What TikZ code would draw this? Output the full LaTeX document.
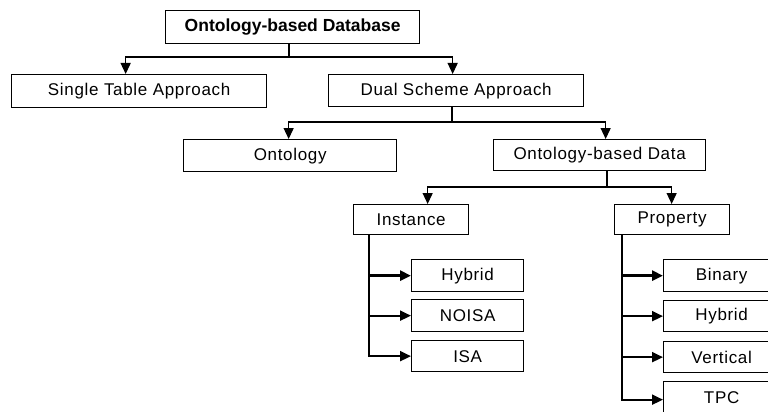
\documentclass[tikz,border=0pt]{standalone}
\usepackage{fontspec}
\setmainfont[LetterSpace=4]{Liberation Sans}
\newfontfamily\titlefont{Liberation Sans}
\usetikzlibrary{arrows.meta}
\begin{document}
\begin{tikzpicture}[x=1pt,y=-1pt,
  box/.style={draw,line width=1.3pt,fill=white,anchor=north west,inner sep=0pt,
              font=\fontsize{17}{20}\selectfont},
  link/.style={line width=1.3pt},
  downarr/.style={line width=1.3pt,-{Triangle[length=11pt,width=10pt]}},
  sidearr/.style={line width=2pt,-{Triangle[length=11pt,width=10pt]}},
]
\useasboundingbox (0,0) rectangle (768,412);
\fill[white] (0,0) rectangle (768,412);
\clip (0,0) rectangle (768,412);

% boxes
\node[box,minimum width=254pt,minimum height=33pt,
      font=\titlefont\bfseries\fontsize{17.5}{20}\selectfont] (db) at (165,10) {Ontology-based Database};
\node[box,minimum width=255pt,minimum height=33pt] (single) at (11,74) {Single Table Approach};
\node[box,minimum width=255pt,minimum height=32pt] (dual) at (328,74) {Dual Scheme Approach};
\node[box,minimum width=213pt,minimum height=32pt] (onto) at (183,139) {Ontology};
\node[box,minimum width=212pt,minimum height=31pt] (obd) at (493,139) {Ontology-based Data};
\node[box,minimum width=115pt,minimum height=30pt] (inst) at (353,204) {Instance};
\node[box,minimum width=115pt,minimum height=30pt] (prop) at (614,204) {Property};
\node[box,minimum width=112pt,minimum height=32pt] (ih) at (411,259) {Hybrid};
\node[box,minimum width=112pt,minimum height=32pt] (ino) at (411,299) {NOISA};
\node[box,minimum width=112pt,minimum height=31pt] (iisa) at (411,340) {ISA};
\node[box,minimum width=116pt,minimum height=32pt] (pb) at (663,259) {Binary};
\node[box,minimum width=116pt,minimum height=31pt] (ph) at (663,300) {Hybrid};
\node[box,minimum width=116pt,minimum height=31pt] (pv) at (663,341) {Vertical};
\node[box,minimum width=116pt,minimum height=32pt] (pt) at (663,381) {TPC};

% level 1
\coordinate (j1) at (289,57);
\draw[link] (db.south -| j1) -- (j1);
\draw[downarr] (j1) -| ([xshift=-13.5pt]single.north);
\draw[downarr] (j1) -| ([xshift=-3.5pt]dual.north);

% level 2
\coordinate (j2) at (452,122);
\draw[link] (dual.south -| j2) -- (j2);
\draw[downarr] (j2) -| ([xshift=-1.5pt]onto.north);
\draw[downarr] (j2) -| ([xshift=6pt]obd.north);

% level 3
\coordinate (j3) at (607,187);
\draw[link] (obd.south -| j3) -- (j3);
\draw[downarr] (j3) -| ([xshift=16.5pt]inst.north);
\draw[downarr] (j3) -| ([xshift=-0.5pt]prop.north);

% instance variants
\coordinate (ix) at ([xshift=16pt]inst.south west);
\draw[sidearr] (ix) |- (iisa.west);
\draw[sidearr,line width=2.8pt] (ix |- ih.west) -- (ih.west);
\draw[sidearr] (ix |- ino.west) -- (ino.west);

% property variants
\coordinate (px) at ([xshift=8pt]prop.south west);
\draw[sidearr] (px) |- ([yshift=-2pt]pt.west);
\draw[sidearr,line width=2.8pt] (px |- pb.west) -- (pb.west);
\draw[sidearr] (px |- ph.west) -- (ph.west);
\draw[sidearr] (px |- pv.west) -- (pv.west);
\end{tikzpicture}
\end{document}
